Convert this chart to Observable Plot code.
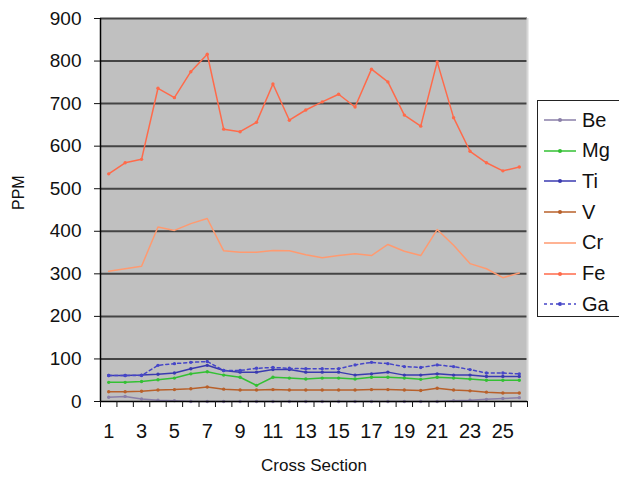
<!DOCTYPE html>
<html>
<head>
<meta charset="utf-8">
<script src="https://cdn.jsdelivr.net/npm/d3@7"></script>
<script src="https://cdn.jsdelivr.net/npm/@observablehq/plot@0.6"></script>
<style>
  html, body { margin: 0; padding: 0; background: #fff; }
  #wrap { position: relative; width: 619px; height: 484px; font-family: "Liberation Sans", Arial, sans-serif; }
  #legend { position: absolute; left: 537px; top: 100px; width: 90px; height: 217px; border: 1px solid #222; background: #fff; box-sizing: border-box; }
  .item { position: absolute; left: 0; height: 24px; display: flex; align-items: center; }
  .item span { font-size: 20px; color: #111; margin-left: 6px; }
</style>
</head>
<body>
<div id="wrap"><div id="chart"></div><div id="legend"></div></div>
<script>
const categories = [1,2,3,4,5,6,7,8,9,10,11,12,13,14,15,16,17,18,19,20,21,22,23,24,25,26];
const tickLabels = [1,3,5,7,9,11,13,15,17,19,21,23,25];
const yTicks = [0,100,200,300,400,500,600,700,800,900];
const seriesNames = ["Be","Mg","Ti","V","Cr","Fe","Ga"];
const Be = [10,12,6,3,2,0,0,0,0,0,0,0,0,0,0,0,0,0,0,0,0,2,3,5,7,9];
const Mg = [45,45,47,51,55,65,70,62,57,38,57,55,53,55,55,53,57,57,55,52,57,55,53,50,50,50];
const Ti = [61,61,62,64,67,77,85,73,69,69,75,75,69,69,69,62,65,69,62,62,65,62,62,59,59,59];
const V  = [23,23,24,27,28,30,34,29,27,27,28,27,27,27,27,27,28,28,27,26,31,27,25,22,20,20];
const Cr = [306,312,318,410,402,418,430,354,351,351,355,354,345,338,343,347,343,369,353,343,404,367,324,312,291,302];
const Fe = [535,561,569,736,714,775,816,640,634,656,746,661,685,704,722,692,781,751,673,647,798,667,588,561,542,551];
const Ga = [61,61,61,85,89,92,94,73,73,78,80,78,77,77,77,86,92,89,82,80,86,82,75,67,67,65];

const seriesValues = {Be, Mg, Ti, V, Cr, Fe, Ga};
const styles = {
  Be: {stroke: "#8a7fa8", dash: null, marker: true},
  Mg: {stroke: "#33c033", dash: null, marker: true},
  Ti: {stroke: "#3a3ab0", dash: null, marker: true},
  V:  {stroke: "#b8602a", dash: null, marker: true},
  Cr: {stroke: "#ff9a70", dash: null, marker: false},
  Fe: {stroke: "#ff6a4a", dash: null, marker: true},
  Ga: {stroke: "#4646c8", dash: "3,3", marker: true}
};

const rows = [];
for (const s of seriesNames) {
  seriesValues[s].forEach((v, i) => rows.push({series: s, x: categories[i], y: v}));
}
const boundaries = [categories[0] - 0.5, ...categories.map(c => c + 0.5)];

const marks = [
  Plot.frame({fill: "#c0c0c0", stroke: null}),
  Plot.ruleY(yTicks.filter(d => d > 0), {stroke: "#444", strokeWidth: 2}),
  Plot.ruleX([boundaries[boundaries.length - 1]], {stroke: "#d8d8d8", strokeWidth: 2})
];
for (const s of seriesNames) {
  const st = styles[s];
  const data = rows.filter(r => r.series === s);
  marks.push(Plot.line(data, {x: "x", y: "y", stroke: st.stroke, strokeWidth: 1.5, strokeDasharray: st.dash}));
  if (st.marker) marks.push(Plot.dot(data, {x: "x", y: "y", r: 1.7, fill: st.stroke}));
}
marks.push(
  Plot.ruleX([boundaries[0]], {stroke: "#000", strokeWidth: 1.5}),
  Plot.ruleY([0], {stroke: "#000", strokeWidth: 1.5}),
  Plot.axisY({ticks: yTicks, tickSize: 6, tickPadding: 13, fontSize: 19, label: null, tickFormat: d => String(d)}),
  Plot.axisX({ticks: boundaries, tickSize: 6, tickFormat: () => "", label: null}),
  Plot.axisX({ticks: tickLabels, tickSize: 0, tickPadding: 22, fontSize: 20, label: null, tickFormat: d => String(d)}),
  Plot.text(["PPM"], {frameAnchor: "left", dx: -82, rotate: -90, fontSize: 16, fill: "#111"}),
  Plot.text(["Cross Section"], {frameAnchor: "bottom", dy: 69, fontSize: 17, fill: "#111"})
);

const chart = Plot.plot({
  width: 619,
  height: 484,
  marginLeft: 100,
  marginRight: 92,
  marginTop: 18,
  marginBottom: 83,
  style: {fontFamily: "'Liberation Sans', Arial, sans-serif", color: "#111", background: "#fff", overflow: "visible"},
  x: {domain: [boundaries[0], boundaries[boundaries.length - 1]]},
  y: {domain: [0, 900]},
  marks
});
document.getElementById("chart").appendChild(chart);

const legend = document.getElementById("legend");
seriesNames.forEach((s, i) => {
  const st = styles[s];
  const item = document.createElement("div");
  item.className = "item";
  item.style.top = (7 + i * 30.7) + "px";
  item.style.left = "6px";
  const svgNS = "http://www.w3.org/2000/svg";
  const sw = document.createElementNS(svgNS, "svg");
  sw.setAttribute("width", "32"); sw.setAttribute("height", "10");
  const ln = document.createElementNS(svgNS, "line");
  ln.setAttribute("x1", "0"); ln.setAttribute("x2", "32"); ln.setAttribute("y1", "5"); ln.setAttribute("y2", "5");
  ln.setAttribute("stroke", st.stroke); ln.setAttribute("stroke-width", "1.5");
  if (st.dash) ln.setAttribute("stroke-dasharray", st.dash);
  sw.appendChild(ln);
  if (st.marker) {
    const c = document.createElementNS(svgNS, "circle");
    c.setAttribute("cx", "16"); c.setAttribute("cy", "5"); c.setAttribute("r", "2");
    c.setAttribute("fill", st.stroke);
    sw.appendChild(c);
  }
  item.appendChild(sw);
  const t = document.createElement("span");
  t.textContent = s;
  item.appendChild(t);
  legend.appendChild(item);
});
</script>
</body>
</html>
